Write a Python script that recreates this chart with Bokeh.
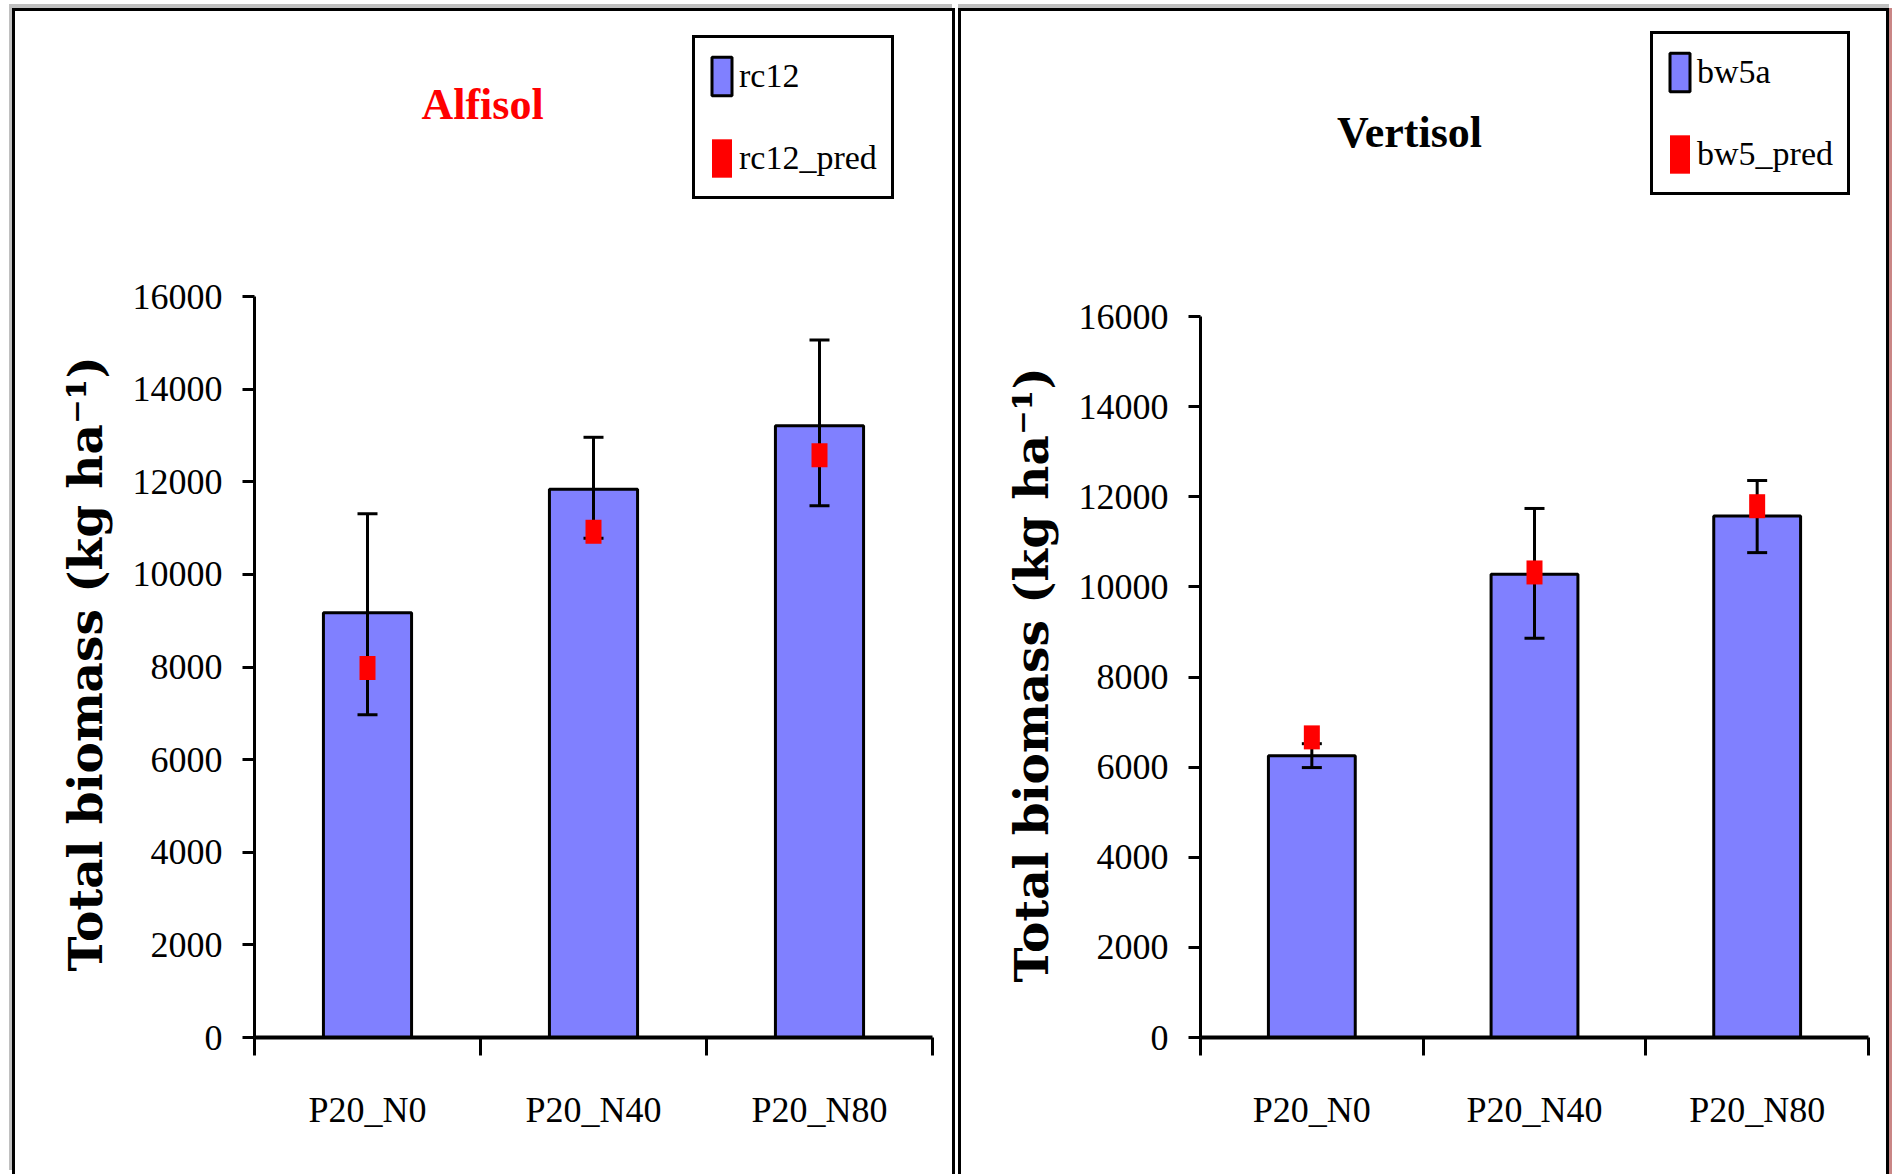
from bokeh.plotting import figure
from bokeh.models import Range1d, LinearAxis, FixedTicker, Label, Title
from bokeh.layouts import row
from bokeh.embed import file_html
from bokeh.resources import INLINE

# ---- data ----
categories = ["P20_N0", "P20_N40", "P20_N80"]

alfisol_obs = [9170, 11840, 13210]
alfisol_upper = [11310, 12960, 15060]
alfisol_lower = [6970, 10780, 11480]
alfisol_pred = [7980, 10920, 12570]

vertisol_obs = [6250, 10280, 11575]
vertisol_upper = [6520, 11740, 12360]
vertisol_lower = [5990, 8860, 10760]
vertisol_pred = [6660, 10320, 11790]

y_ticks = [0, 2000, 4000, 6000, 8000, 10000, 12000, 14000, 16000]
y_label = "Total biomass (kg ha\u207b\u00b9)"

BAR = "#8080FF"
SERIF = "Liberation Serif"

CANVAS_H = 1163        # css content height of each panel
CANVAS_LOGICAL = 1166  # height bokeh lays the canvas out with (includes border)
MB_BOTTOM = 140


def make_panel(title, title_color, obs, upper, lower, pred, obs_name, pred_name,
               width, mb_left, mb_right, axis_px, label_offset,
               title_xy, legend_xy, styles, margin):
    n = len(categories)
    slot = [i + 0.5 for i in range(n)]          # centre of each category slot
    frame_h = CANVAS_LOGICAL - MB_BOTTOM
    # the frame reaches the top of the panel; the value axis stops at its last tick
    y_end = y_ticks[-1] * frame_h / axis_px
    p = figure(x_range=Range1d(0, n), y_range=Range1d(0, y_end),
               x_axis_type=None, width=width, height=CANVAS_H,
               min_border_left=mb_left, min_border_right=mb_right,
               min_border_top=0, min_border_bottom=MB_BOTTOM,
               output_backend="svg", toolbar_location=None,
               background_fill_color="white", border_fill_color="white",
               outline_line_color=None, styles=styles, margin=margin)
    p.xgrid.visible = False
    p.ygrid.visible = False

    # category axis: labels at slot centres, tick marks at slot boundaries
    xax = LinearAxis(ticker=FixedTicker(ticks=slot, minor_ticks=list(range(n + 1))),
                     major_label_overrides={s: c for s, c in zip(slot, categories)})
    xax.axis_line_width = 4
    xax.axis_line_color = "black"
    xax.major_tick_line_color = None
    xax.major_tick_out = 0
    xax.major_tick_in = 0
    xax.minor_tick_line_color = "black"
    xax.minor_tick_line_width = 3
    xax.minor_tick_out = 18
    xax.minor_tick_in = 0
    xax.major_label_standoff = 34
    xax.major_label_text_font = SERIF
    xax.major_label_text_font_size = "36px"
    xax.major_label_text_color = "black"
    p.add_layout(xax, "below")

    yax = p.yaxis[0]
    yax.ticker = FixedTicker(ticks=y_ticks)
    yax.bounds = (0, y_ticks[-1])
    yax.axis_line_width = 3
    yax.axis_line_color = "black"
    yax.major_tick_line_width = 3
    yax.major_tick_out = 12
    yax.major_tick_in = 0
    yax.minor_tick_line_color = None
    yax.major_label_standoff = 20
    yax.major_label_text_font = SERIF
    yax.major_label_text_font_size = "36px"
    yax.major_label_text_color = "black"

    # value-axis title, starting a little above the zero line
    p.add_layout(Title(text=y_label, align="left", vertical_align="bottom",
                       offset=label_offset, standoff=34,
                       text_font="DejaVu Serif", text_font_style="bold",
                       text_font_size="47px", text_color="black"), "left")

    p.vbar(x=slot, top=obs, width=0.39, fill_color=BAR,
           line_color="black", line_width=3, legend_label=obs_name)
    p.segment(x0=slot, y0=lower, x1=slot, y1=upper,
              line_color="black", line_width=3)
    p.scatter(x=slot, y=upper, marker="dash", size=20,
              line_color="black", line_width=3)
    p.scatter(x=slot, y=lower, marker="dash", size=20,
              line_color="black", line_width=3)
    p.rect(x=slot, y=pred, width=16, height=24,
           width_units="screen", height_units="screen",
           fill_color="#FF0000", line_color=None, legend_label=pred_name)

    leg = p.legend[0]
    leg.location = legend_xy
    leg.margin = 0
    leg.padding = 14
    leg.spacing = 34
    leg.glyph_width = 25
    leg.glyph_height = 48
    leg.label_standoff = 5
    leg.label_text_font = SERIF
    leg.label_text_font_size = "34px"
    leg.label_text_color = "black"
    leg.border_line_color = "black"
    leg.border_line_alpha = 1
    leg.border_line_width = 3
    leg.background_fill_color = "white"
    leg.background_fill_alpha = 1

    p.add_layout(Label(x=title_xy[0], y=title_xy[1], x_units="screen", y_units="screen",
                       text=title, text_color=title_color, text_font=SERIF,
                       text_font_style="bold", text_font_size="44px",
                       text_align="center", text_baseline="middle"))
    return p


BORDER = {"border-top": "3px solid black", "border-left": "3px solid black",
          "border-right": "3px solid black", "box-sizing": "content-box"}

left = make_panel("Alfisol", "#FF0000", alfisol_obs, alfisol_upper, alfisol_lower,
                  alfisol_pred, "rc12", "rc12_pred",
                  937, 239, 26, 741, 66, (228, 933), (438, 838),
                  dict(BORDER, **{"box-shadow": "-3px -4px 0 #c0c0c0"}),
                  (8, 0, 0, 12))
right = make_panel("Vertisol", "black", vertisol_obs, vertisol_upper, vertisol_lower,
                   vertisol_pred, "bw5a", "bw5_pred",
                   925, 239, 24, 721, 55, (209, 905), (450, 842),
                   dict(BORDER, **{"box-shadow": "0 -4px 0 #c0c0c0, 3px 0 0 #c98585"}),
                   (8, 0, 0, 3))

layout = row(left, right)
open("out.html", "w").write(file_html(layout, INLINE))
